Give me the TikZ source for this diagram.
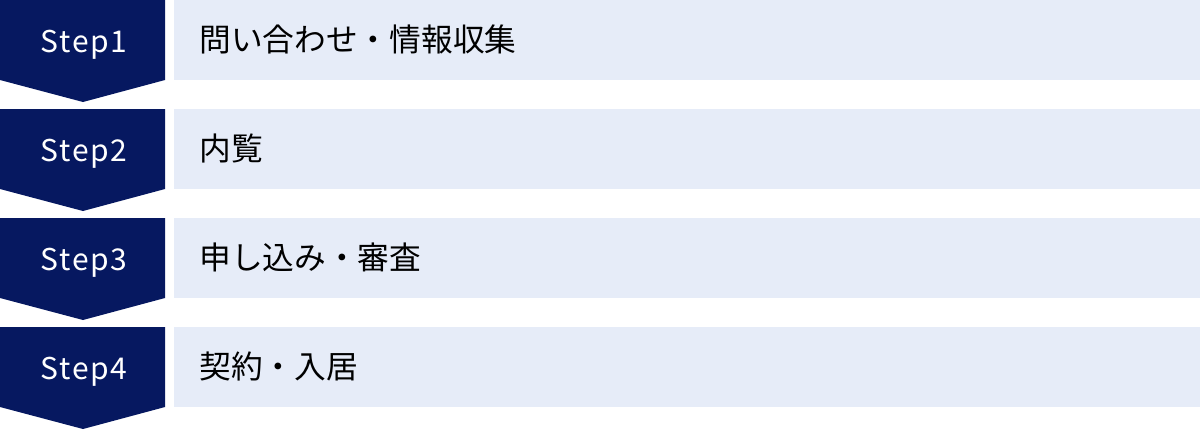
\documentclass[tikz,border=0pt]{standalone}
\usepackage{fontspec}
\setmainfont{Noto Sans CJK JP}
\newfontfamily\jpfont{Noto Sans CJK JP}
\newfontfamily\stepfont[LetterSpace=6]{Noto Sans CJK JP}
\definecolor{navy}{RGB}{6,24,96}
\definecolor{paleblue}{RGB}{230,236,248}
\begin{document}
\begin{tikzpicture}[x=0.5pt,y=-0.5pt,
  steplabel/.style={text=white,font=\stepfont\fontsize{15pt}{17pt}\selectfont,inner sep=0pt,anchor=base},
  bar/.style={fill=paleblue,draw=none},
  chevron/.style={fill=navy,draw=none},
  bartext/.style={anchor=west,inner sep=0pt,font=\jpfont\fontsize{15.85pt}{18pt}\selectfont,text=black}]
\useasboundingbox (0,0) rectangle (1200,429);
\foreach \i/\t in {0/問い合わせ・情報収集,1/内覧,2/申し込み・審査,3/契約・入居}{
  \pgfmathsetmacro{\y}{\i*109}
  \fill[chevron] (0,\y) -- (165,\y) -- (165,\y+80) -- (83,\y+102) -- (0,\y+80) -- cycle;
  \fill[bar] (174,\y) rectangle (1200,\y+80);
  \pgfmathtruncatemacro{\n}{\i+1}
  \node[steplabel] (s\n) at (84,\y+52) {Step\n};
  \node[bartext] (t\n) at (199,\y+39) {\t};
}
\end{tikzpicture}
\end{document}
